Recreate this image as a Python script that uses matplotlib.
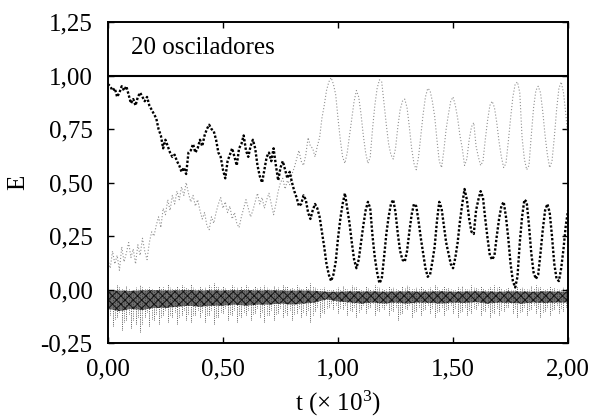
import numpy as np
import matplotlib
matplotlib.use("Agg")
import matplotlib.pyplot as plt

plt.rcParams['font.family'] = ['Liberation Serif', 'DejaVu Serif']
plt.rcParams['mathtext.fontset'] = 'custom'
plt.rcParams['mathtext.rm'] = 'Liberation Serif'
plt.rcParams['mathtext.it'] = 'Liberation Serif:italic'
plt.rcParams['hatch.linewidth'] = 0.7
plt.rcParams['hatch.color'] = '#111111'

# ---------------- data (t in units of 10^3) ----------------
t_samples = np.linspace(0.0, 2.0, 201)          # sample times, step 0.01

dark_E = [
    0.96, 0.95, 0.93, 0.94, 0.90, 0.92, 0.95, 0.93, 0.95, 0.91,
    0.87, 0.89, 0.86, 0.90, 0.92, 0.90, 0.88, 0.90, 0.86, 0.84,
    0.82, 0.80, 0.75, 0.72, 0.66, 0.70, 0.67, 0.64, 0.62, 0.63,
    0.60, 0.58, 0.55, 0.57, 0.54, 0.64, 0.65, 0.68, 0.64, 0.66,
    0.70, 0.67, 0.72, 0.75, 0.77, 0.75, 0.74, 0.70, 0.64, 0.62,
    0.56, 0.52, 0.60, 0.63, 0.66, 0.62, 0.58, 0.66, 0.68, 0.72,
    0.65, 0.62, 0.67, 0.70, 0.66, 0.58, 0.53, 0.50, 0.56, 0.62,
    0.64, 0.60, 0.66, 0.58, 0.51, 0.57, 0.60, 0.56, 0.52, 0.55,
    0.50, 0.46, 0.43, 0.39, 0.40, 0.44, 0.42, 0.36, 0.33, 0.37,
    0.40, 0.38, 0.34, 0.27, 0.20, 0.12, 0.07, 0.04, 0.07, 0.13,
    0.24, 0.33, 0.40, 0.45, 0.38, 0.31, 0.22, 0.14, 0.10, 0.14,
    0.22, 0.30, 0.37, 0.41, 0.38, 0.25, 0.15, 0.08, 0.03, 0.05,
    0.15, 0.26, 0.34, 0.40, 0.42, 0.36, 0.26, 0.18, 0.14, 0.13,
    0.18, 0.27, 0.35, 0.40, 0.39, 0.32, 0.24, 0.17, 0.10, 0.06,
    0.07, 0.13, 0.20, 0.32, 0.41, 0.38, 0.30, 0.22, 0.17, 0.12,
    0.10, 0.15, 0.22, 0.32, 0.40, 0.47, 0.42, 0.33, 0.27, 0.26,
    0.37, 0.42, 0.46, 0.43, 0.33, 0.24, 0.16, 0.14, 0.16, 0.25,
    0.33, 0.39, 0.41, 0.34, 0.24, 0.12, 0.04, 0.01, 0.06, 0.22,
    0.34, 0.42, 0.41, 0.30, 0.17, 0.08, 0.05, 0.07, 0.17, 0.28,
    0.37, 0.40, 0.36, 0.25, 0.12, 0.05, 0.04, 0.10, 0.19, 0.30,
    0.37,
]

gray_E = [
    0.14, 0.10, 0.18, 0.12, 0.16, 0.09, 0.20, 0.13, 0.17, 0.22,
    0.15, 0.19, 0.12, 0.21, 0.16, 0.24, 0.18, 0.14, 0.22, 0.27,
    0.25, 0.30, 0.34, 0.29, 0.38, 0.35, 0.42, 0.37, 0.44, 0.40,
    0.46, 0.42, 0.48, 0.44, 0.50, 0.45, 0.41, 0.44, 0.39, 0.42,
    0.37, 0.33, 0.36, 0.30, 0.28, 0.34, 0.31, 0.36, 0.40, 0.43,
    0.38, 0.41, 0.36, 0.39, 0.33, 0.36, 0.31, 0.29, 0.34, 0.38,
    0.42, 0.38, 0.34, 0.37, 0.41, 0.45, 0.40, 0.43, 0.38, 0.42,
    0.45, 0.40, 0.35, 0.40, 0.46, 0.50, 0.52, 0.47, 0.51, 0.49,
    0.54, 0.57, 0.61, 0.65, 0.60, 0.58, 0.63, 0.71, 0.67, 0.66,
    0.62, 0.67, 0.71, 0.80, 0.86, 0.93, 0.97, 0.99, 0.96, 0.91,
    0.80, 0.70, 0.62, 0.59, 0.64, 0.72, 0.80, 0.88, 0.93, 0.90,
    0.82, 0.72, 0.64, 0.59, 0.62, 0.75, 0.86, 0.94, 0.98, 0.97,
    0.87, 0.77, 0.68, 0.63, 0.61, 0.66, 0.76, 0.84, 0.88, 0.89,
    0.85, 0.76, 0.66, 0.59, 0.56, 0.62, 0.72, 0.82, 0.90, 0.94,
    0.93, 0.88, 0.81, 0.70, 0.60, 0.57, 0.65, 0.75, 0.82, 0.88,
    0.90, 0.86, 0.80, 0.72, 0.66, 0.58, 0.61, 0.70, 0.76, 0.78,
    0.67, 0.62, 0.58, 0.60, 0.70, 0.79, 0.86, 0.88, 0.85, 0.78,
    0.69, 0.62, 0.57, 0.59, 0.69, 0.80, 0.90, 0.96, 0.97, 0.92,
    0.71, 0.61, 0.56, 0.58, 0.72, 0.85, 0.93, 0.95, 0.92, 0.83,
    0.72, 0.63, 0.57, 0.60, 0.71, 0.84, 0.94, 0.97, 0.92, 0.82,
    0.70,
]

# interaction-energy band near zero
band_t = np.linspace(0.0, 2.0, 41)               # step 0.05
band_top = [
    -0.005, -0.004, -0.006, -0.003, -0.002, -0.004, -0.003, -0.002, -0.004, -0.003,
    -0.004, -0.003, -0.002, -0.004, -0.003, -0.004, -0.005, -0.004, -0.006, -0.010,
    -0.010, -0.008, -0.009, -0.008, -0.010, -0.009, -0.008, -0.010, -0.009, -0.008,
    -0.010, -0.009, -0.008, -0.009, -0.010, -0.008, -0.009, -0.010, -0.008, -0.009,
    -0.010,
]
band_bot = [
    -0.090, -0.100, -0.090, -0.095, -0.085, -0.085, -0.080, -0.075, -0.080, -0.075,
    -0.075, -0.070, -0.075, -0.070, -0.070, -0.065, -0.070, -0.065, -0.060, -0.045,
    -0.055, -0.060, -0.065, -0.060, -0.065, -0.060, -0.065, -0.060, -0.062, -0.065,
    -0.060, -0.062, -0.058, -0.065, -0.060, -0.062, -0.065, -0.060, -0.062, -0.060,
    -0.060,
]
spike_t = np.linspace(0.0, 2.0, 101)             # step 0.02
spike_lo = [
    -0.15, -0.17, -0.13, -0.19, -0.14, -0.18, -0.16, -0.20, -0.13, -0.17,
    -0.14, -0.16, -0.12, -0.15, -0.13, -0.16, -0.12, -0.14, -0.15, -0.12,
    -0.13, -0.15, -0.12, -0.16, -0.13, -0.11, -0.14, -0.12, -0.15, -0.13,
    -0.12, -0.14, -0.11, -0.13, -0.15, -0.12, -0.14, -0.11, -0.13, -0.12,
    -0.14, -0.11, -0.13, -0.12, -0.15, -0.10, -0.13, -0.11, -0.08, -0.09,
    -0.11, -0.09, -0.12, -0.10, -0.13, -0.09, -0.11, -0.08, -0.12, -0.10,
    -0.09, -0.12, -0.10, -0.14, -0.11, -0.09, -0.13, -0.10, -0.12, -0.09,
    -0.11, -0.13, -0.10, -0.12, -0.09, -0.11, -0.13, -0.10, -0.12, -0.11,
    -0.09, -0.12, -0.10, -0.13, -0.11, -0.12, -0.10, -0.08, -0.11, -0.13,
    -0.10, -0.12, -0.09, -0.11, -0.13, -0.10, -0.12, -0.09, -0.11, -0.10,
    -0.09,
]
spike_hi = [
    0.010, 0.000, 0.020, 0.005, 0.015, 0.000, 0.010, 0.020, 0.005, 0.010,
    0.000, 0.015, 0.010, 0.025, 0.005, 0.015, 0.020, 0.010, 0.025, 0.005,
    0.015, 0.010, 0.020, 0.030, 0.010, 0.015, 0.005, 0.020, 0.010, 0.015,
    0.020, 0.005, 0.015, 0.010, 0.020, 0.005, 0.015, 0.010, 0.020, 0.015,
    0.010, 0.020, 0.005, 0.015, 0.030, 0.010, 0.005, 0.010, 0.000, 0.005,
    0.010, 0.015, 0.005, 0.020, 0.010, 0.000, 0.015, 0.005, 0.020, 0.010,
    0.005, 0.015, 0.010, 0.000, 0.015, 0.020, 0.005, 0.010, 0.015, 0.005,
    0.010, 0.020, 0.005, 0.015, 0.010, 0.000, 0.010, 0.015, 0.005, 0.020,
    0.010, 0.015, 0.005, 0.010, 0.020, 0.015, 0.005, 0.010, 0.000, 0.015,
    0.010, 0.005, 0.015, 0.020, 0.010, 0.005, 0.015, 0.010, 0.005, 0.010,
    0.005,
]

x_ticks = [0.0, 0.5, 1.0, 1.5, 2.0]
x_ticklabels = ["0,00", "0,50", "1,00", "1,50", "2,00"]
y_ticks = [-0.25, 0.0, 0.25, 0.5, 0.75, 1.0, 1.25]
y_ticklabels = ["-0,25", "0,00", "0,25", "0,50", "0,75", "1,00", "1,25"]
title_text = "20 osciladores"

# ---------------- figure ----------------
fig = plt.figure(figsize=(5.93, 4.19), dpi=100)
ax = fig.add_axes([0.182, 0.181, 0.776, 0.7665])

# band
ax.fill_between(band_t, band_bot, band_top, facecolor="#6e6e6e", hatch="xxxx",
                edgecolor="#111111", lw=0, zorder=1)
ax.vlines(spike_t, spike_lo, spike_hi, colors="#333333", linewidth=0.6,
          linestyles=(0, (1, 1.2)), zorder=1)
ax.vlines(spike_t + 0.01, np.array(spike_lo) * 0.8, np.array(spike_hi) * 0.5,
          colors="#222222", linewidth=0.5, linestyles=(0, (1, 1.5)), zorder=1)

# gray series
ax.plot(t_samples, gray_E, color="#909090", lw=0.8, linestyle=(0, (1, 1.8)), zorder=2)

# dark series
ax.plot(t_samples, dark_E, color="black", lw=1.7, linestyle=(0, (1, 0.8)), zorder=3)

# line at E = 1
ax.axhline(1.0, color="black", lw=1.5, zorder=4)

ax.text(0.10, 1.13, title_text, fontsize=18, ha="left", va="center")

ax.set_xlim(0.0, 2.0)
ax.set_ylim(-0.25, 1.25)
ax.set_xticks(x_ticks)
ax.set_xticklabels(x_ticklabels)
ax.set_yticks(y_ticks)
ax.set_yticklabels(y_ticklabels)
ax.tick_params(direction="in", length=4, width=1.0, top=True, right=True,
               labelsize=18)
ax.tick_params(axis="x", pad=11)
ax.tick_params(axis="y", pad=11)

for s in ax.spines.values():
    s.set_linewidth(1.4)

ax.set_xlabel(r"t ($\times$ 10$^{3}$)", fontsize=18, labelpad=6)
ax.set_ylabel("E", fontsize=18, labelpad=8)

fig.savefig("out.png", dpi=100)
